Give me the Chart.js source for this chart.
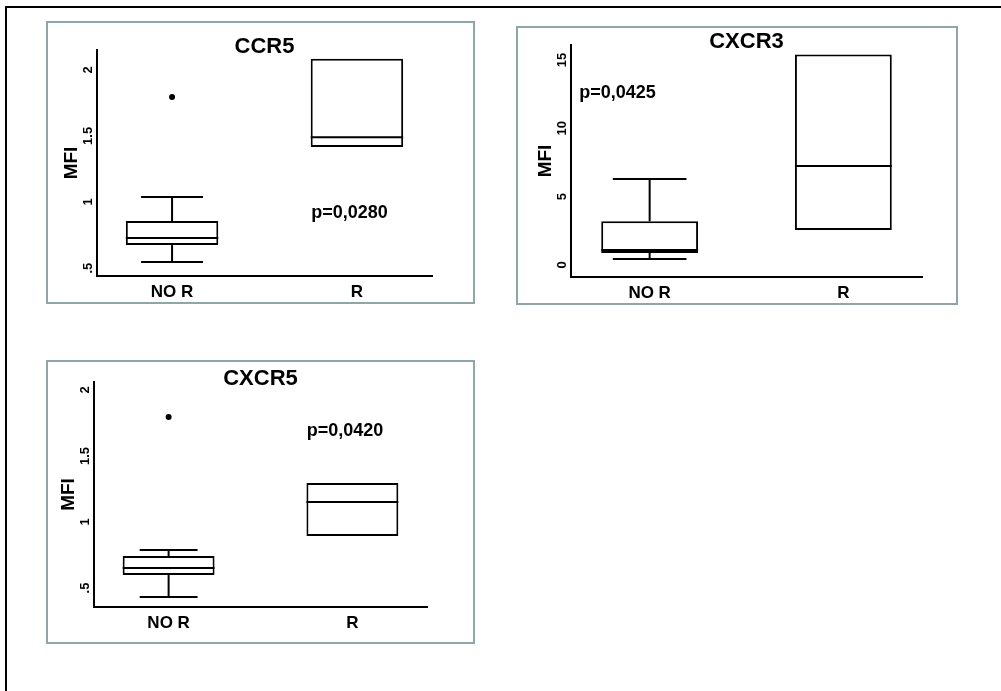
<!DOCTYPE html>
<html>
<head>
<meta charset="utf-8">
<script src="https://cdn.jsdelivr.net/npm/chart.js@4.4.1/dist/chart.umd.min.js"></script>
<style>
  body { margin: 0; background: #fff; width: 1001px; height: 691px; overflow: hidden; position: relative; }
  .frame { position: absolute; left: 5px; top: 6px; width: 1100px; height: 800px;
           border-left: 2px solid #000; border-top: 2px solid #000; }
  .panel { position: absolute; box-sizing: border-box; border: 2px solid #8ea6a8; background: #fff; }
  .panel canvas { position: absolute; left: 0; top: 0; }
</style>
</head>
<body>
<div class="frame"></div>
<div class="panel" style="left:46px;top:21px;width:429px;height:283px"><canvas id="ccr5" width="425" height="279"></canvas></div>
<div class="panel" style="left:516px;top:26px;width:442px;height:279px"><canvas id="cxcr3" width="438" height="275"></canvas></div>
<div class="panel" style="left:46px;top:360px;width:429px;height:284px"><canvas id="cxcr5" width="425" height="280"></canvas></div>
<script>
var categories = ['NO R', 'R'];

// CCR5
var ccr5Min = [0.545, 1.417];
var ccr5Q1 = [0.674, 1.417];
var ccr5Median = [0.727, 1.49];
var ccr5Q3 = [0.856, 2.083];
var ccr5Max = [1.038, 2.083];
var ccr5Outliers = [1.795, null];
var ccr5Ticks = [0.5, 1, 1.5, 2];

// CXCR3
var cxcr3Min = [0.44, 2.56];
var cxcr3Q1 = [0.88, 2.56];
var cxcr3Median = [1.1, 7.24];
var cxcr3Q3 = [3.2, 15.4];
var cxcr3Max = [6.3, 15.4];
var cxcr3Outliers = [null, null];
var cxcr3Ticks = [0, 5, 10, 15];

// CXCR5
var cxcr5Min = [0.432, 0.894];
var cxcr5Q1 = [0.598, 0.894];
var cxcr5Median = [0.652, 1.152];
var cxcr5Q3 = [0.742, 1.295];
var cxcr5Max = [0.788, 1.295];
var cxcr5Outliers = [1.795, null];
var cxcr5Ticks = [0.5, 1, 1.5, 2];

var FONT = '"Liberation Sans", Arial, sans-serif';

function tickText(v) {
    if (v > 0 && v < 1) return String(v).replace(/^0/, '');
    return String(v);
}

// whiskers, medians and the text bits
var boxExtras = {
    id: 'boxExtras',
    afterDatasetsDraw: function (chart) {
        var o = chart.options.plugins.boxExtras;
        var ctx = chart.ctx;
        var ys = chart.scales.y;
        var xs = chart.scales.x;
        var area = chart.chartArea;
        var meta = chart.getDatasetMeta(0);

        ctx.save();
        ctx.strokeStyle = '#000';
        ctx.lineWidth = 2;
        meta.data.forEach(function (bar, i) {
            var x = bar.x, w = bar.width, cap = w * o.cap;
            var line = function (x1, y1, x2, y2) {
                ctx.beginPath(); ctx.moveTo(x1, y1); ctx.lineTo(x2, y2); ctx.stroke();
            };
            var yMed = ys.getPixelForValue(o.median[i]);
            line(x - w / 2, yMed, x + w / 2, yMed);
            if (o.max[i] > o.q3[i]) {
                var yMax = ys.getPixelForValue(o.max[i]);
                line(x, ys.getPixelForValue(o.q3[i]), x, yMax);
                line(x - cap / 2, yMax, x + cap / 2, yMax);
            }
            if (o.min[i] < o.q1[i]) {
                var yMin = ys.getPixelForValue(o.min[i]);
                line(x, ys.getPixelForValue(o.q1[i]), x, yMin);
                line(x - cap / 2, yMin, x + cap / 2, yMin);
            }
        });

        ctx.fillStyle = '#000';
        ctx.textAlign = 'center';
        ctx.textBaseline = 'middle';

        // title
        ctx.font = 'bold 22px ' + FONT;
        ctx.fillText(o.title, (area.left + area.right) / 2, area.top - 3);

        // p value
        ctx.font = 'bold 18px ' + FONT;
        ctx.fillText(o.pText, xs.getPixelForValue(o.pX), ys.getPixelForValue(o.pY));

        // y tick labels, rotated
        ctx.font = 'bold 13px ' + FONT;
        o.ticks.forEach(function (v) {
            ctx.save();
            ctx.translate(area.left - 9, ys.getPixelForValue(v));
            ctx.rotate(-Math.PI / 2);
            ctx.fillText(tickText(v), 0, 0);
            ctx.restore();
        });

        // axis title
        ctx.font = 'bold 19px ' + FONT;
        ctx.save();
        ctx.translate(area.left - 25, (area.top + area.bottom) / 2);
        ctx.rotate(-Math.PI / 2);
        ctx.fillText('MFI', 0, 0);
        ctx.restore();

        ctx.restore();
    }
};

function boxChart(id, s) {
    return new Chart(document.getElementById(id), {
        type: 'bar',
        data: {
            datasets: [{
                data: categories.map(function (c, i) { return { x: i, y: [s.q1[i], s.q3[i]] }; }),
                backgroundColor: '#fff',
                borderColor: '#000',
                borderWidth: 2,
                borderSkipped: false,
                barPercentage: 0.5,
                categoryPercentage: 1
            }, {
                type: 'scatter',
                data: categories.map(function (c, i) { return { x: i, y: s.outliers[i] }; }),
                backgroundColor: '#000',
                borderColor: '#000',
                pointRadius: 3,
                borderWidth: 0
            }]
        },
        options: {
            responsive: false,
            animation: false,
            devicePixelRatio: 1,
            layout: { padding: { left: 0, top: s.top, right: s.right, bottom: 0 } },
            plugins: {
                legend: { display: false },
                tooltip: { enabled: false },
                boxExtras: {
                    title: s.title, pText: s.pText, pX: s.pX, pY: s.pY,
                    min: s.min, q1: s.q1, median: s.median, q3: s.q3, max: s.max,
                    ticks: s.ticks, cap: s.cap
                }
            },
            scales: {
                x: {
                    type: 'linear',
                    min: -0.406,
                    max: 1.406,
                    offset: false,
                    grid: { display: false, drawTicks: false },
                    border: { display: true, color: '#000', width: 2 },
                    afterBuildTicks: function (sc) {
                        sc.ticks = categories.map(function (c, i) { return { value: i }; });
                    },
                    ticks: {
                        callback: function (v) { return categories[v]; },
                        font: { family: FONT, weight: 'bold', size: 17 },
                        color: '#000',
                        padding: 6,
                        maxRotation: 0,
                        autoSkip: false
                    },
                    afterFit: function (sc) { sc.height = s.xh; }
                },
                y: {
                    min: s.yMin,
                    max: s.yMax,
                    grid: { display: false, drawTicks: false },
                    border: { display: true, color: '#000', width: 2 },
                    ticks: { display: false },
                    afterFit: function (sc) { sc.width = s.yw; }
                }
            }
        },
        plugins: [boxExtras]
    });
}

boxChart('ccr5', {
    title: 'CCR5', pText: 'p=0,0280', pX: 0.96, pY: 0.92,
    min: ccr5Min, q1: ccr5Q1, median: ccr5Median, q3: ccr5Q3, max: ccr5Max,
    outliers: ccr5Outliers, ticks: ccr5Ticks,
    yMin: 0.44, yMax: 2.15, cap: 0.67,
    top: 27, right: 41, yw: 49, xh: 26
});

boxChart('cxcr3', {
    title: 'CXCR3', pText: 'p=0,0425', pX: -0.166, pY: 12.6,
    min: cxcr3Min, q1: cxcr3Q1, median: cxcr3Median, q3: cxcr3Q3, max: cxcr3Max,
    outliers: cxcr3Outliers, ticks: cxcr3Ticks,
    yMin: -0.88, yMax: 16.1, cap: 0.76,
    top: 17, right: 34, yw: 53, xh: 26
});

boxChart('cxcr5', {
    title: 'CXCR5', pText: 'p=0,0420', pX: 0.96, pY: 1.69,
    min: cxcr5Min, q1: cxcr5Q1, median: cxcr5Median, q3: cxcr5Q3, max: cxcr5Max,
    outliers: cxcr5Outliers, ticks: cxcr5Ticks,
    yMin: 0.356, yMax: 2.06, cap: 0.63,
    top: 20, right: 46, yw: 46, xh: 35
});
</script>
</body>
</html>
